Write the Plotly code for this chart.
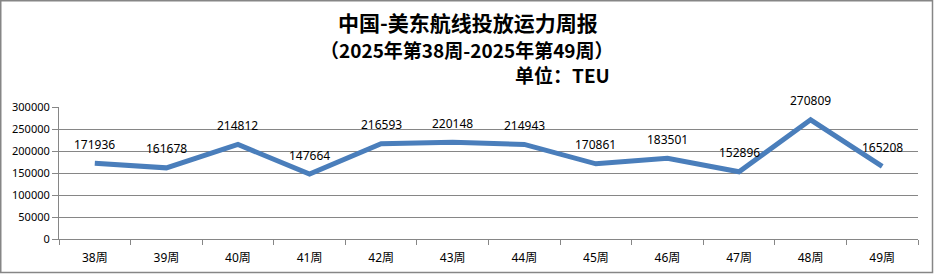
import plotly.graph_objects as go

weeks = ["38周", "39周", "40周", "41周", "42周", "43周", "44周", "45周", "46周", "47周", "48周", "49周"]
capacity = [171936, 161678, 214812, 147664, 216593, 220148, 214943, 170861, 183501, 152896, 270809, 165208]
y_ticks = [0, 50000, 100000, 150000, 200000, 250000, 300000]

title_line1 = "中国-美东航线投放运力周报"
title_line2 = "（2025年第38周-2025年第49周）"
title_line3 = "单位：TEU"

W, H = 934, 275
L, R, T, B = 59, 16, 107, 36
pw, ph = W - L - R, H - T - B

def px_x(px):
    return (px - L) / pw

def px_y(py):
    return (H - B - py) / ph

fig = go.Figure()
fig.add_trace(go.Scatter(
    x=weeks, y=capacity, mode="lines",
    line=dict(color="#4A7EBB", width=5),
    hoverinfo="x+y", showlegend=False,
))

annotations = []
for w, v in zip(weeks, capacity):
    annotations.append(dict(
        x=w, y=v, xref="x", yref="y", text=str(v), showarrow=False,
        yshift=19, font=dict(family="Noto Sans, Noto Sans CJK SC", size=12, color="#000000"),
    ))

title_font = "Noto Sans CJK SC"
annotations += [
    dict(x=px_x(467.5), y=px_y(21.5), xref="paper", yref="paper", text="<b>%s</b>" % title_line1,
         showarrow=False, xanchor="center", yanchor="middle",
         font=dict(family=title_font, size=21, color="#000000")),
    dict(x=px_x(466.5), y=px_y(49.5), xref="paper", yref="paper", text="<b>%s</b>" % title_line2,
         showarrow=False, xanchor="center", yanchor="middle",
         font=dict(family=title_font, size=19, color="#000000")),
    dict(x=px_x(612), y=px_y(74.5), xref="paper", yref="paper", text="<b>%s</b>" % title_line3,
         showarrow=False, xanchor="right", yanchor="middle",
         font=dict(family=title_font, size=19, color="#000000")),
]

fig.update_layout(
    width=W, height=H,
    margin=dict(l=L, r=R, t=T, b=B, pad=0),
    paper_bgcolor="white", plot_bgcolor="white",
    annotations=annotations,
    shapes=[dict(type="rect", xref="paper", yref="paper",
                 x0=px_x(0.75), x1=px_x(932.5), y0=px_y(272.5), y1=px_y(0.75),
                 line=dict(color="#868686", width=1.5), fillcolor="rgba(0,0,0,0)", layer="below")],
    xaxis=dict(
        type="category", categoryorder="array", categoryarray=weeks,
        showgrid=False, showline=True, linecolor="#868686", linewidth=1,
        ticks="outside", tickson="boundaries", ticklen=5, tickcolor="#868686",
        ticklabelstandoff=8, automargin=False,
        tickfont=dict(family="Noto Sans, Noto Sans CJK SC", size=12, color="#000000"),
        range=[-0.5, len(weeks) - 0.5], fixedrange=True, zeroline=False,
    ),
    yaxis=dict(
        range=[0, 300000], tickvals=y_ticks, ticktext=[str(t) for t in y_ticks],
        showgrid=True, gridcolor="#868686", gridwidth=1,
        showline=True, linecolor="#868686", linewidth=1,
        ticks="outside", ticklen=6, tickcolor="#868686", automargin=False,
        tickfont=dict(family="Noto Sans", size=11, color="#000000"),
        zeroline=False, fixedrange=True,
    ),
)

fig.write_html("out.html")
